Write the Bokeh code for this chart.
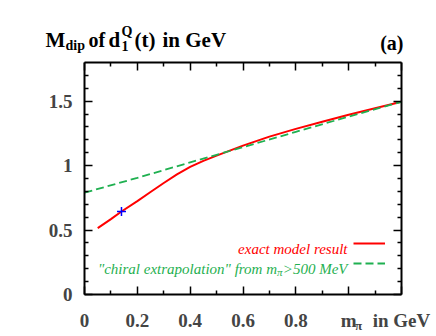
from bokeh.plotting import figure
from bokeh.layouts import column
from bokeh.models import (Range1d, LinearAxis, FixedTicker, Label, Legend, LegendItem)
from bokeh.embed import file_html
from bokeh.resources import INLINE

# ---- data ----
mpi_model = [0.05, 0.1, 0.14, 0.2, 0.25, 0.3, 0.35, 0.4, 0.45, 0.5, 0.6, 0.7, 0.8, 0.9, 1.0, 1.1, 1.2]
mdip_model = [0.515, 0.585, 0.644, 0.725, 0.795, 0.865, 0.932, 0.99, 1.037, 1.077, 1.155, 1.225, 1.285, 1.34, 1.395, 1.445, 1.495]
mpi_chiral = [0.0, 0.2, 0.4, 0.6, 0.8, 1.0, 1.2]
mdip_chiral = [0.79, 0.905, 1.025, 1.143, 1.262, 1.38, 1.495]
mpi_phys = [0.14]
mdip_phys = [0.644]

x_major = [0, 0.2, 0.4, 0.6, 0.8, 1.0, 1.2]
x_minor = [0.1, 0.3, 0.5, 0.7, 0.9, 1.1]
x_labels = {0: "0", 0.2: "0.2", 0.4: "0.4", 0.6: "0.6", 0.8: "0.8", 1.0: "m", 1.2: "in GeV"}
x_sub_tick = [1.037]
x_sub_label = {1.037: "\u03c0"}
y_major = [0, 0.5, 1.0, 1.5]
y_minor = [0.1, 0.2, 0.3, 0.4, 0.6, 0.7, 0.8, 0.9, 1.1, 1.2, 1.3, 1.4, 1.6, 1.7]
y_labels = {0: "0", 0.5: "0.5", 1.0: "1", 1.5: "1.5"}

RED = "#ff0000"
GREEN = "#1fb050"
BLUE = "#0000ff"
SERIF = "Liberation Serif"

W = 434
HT = 60          # title strip height
HM = 276         # main figure height

# ---------------- title strip ----------------
t = figure(width=W, height=HT, output_backend="svg", toolbar_location=None,
           x_range=Range1d(0, 1), y_range=Range1d(0, 1), min_border=0,
           x_axis_type=None, y_axis_type=None)
t.grid.visible = False
t.outline_line_color = None
t.border_fill_color = "white"
t.frame_align = False


def tlabel(fig, txt, px, py, size, color="black", style="bold", align="left"):
    fig.add_layout(Label(x=px, y=py, x_units="canvas", y_units="canvas",
                         text=txt, text_font=SERIF, text_font_style=style,
                         text_font_size=size, text_color=color, text_align=align,
                         text_baseline="alphabetic"))


tlabel(t, "M", 45, 39, "21px")
tlabel(t, "dip", 65, 45, "14px")
tlabel(t, "of", 88, 39, "20px")
tlabel(t, "d", 108, 39, "21px")
tlabel(t, "Q", 121, 31, "14px")
tlabel(t, "1", 121, 45, "14px")
tlabel(t, "(t)", 134, 39, "21px")
tlabel(t, "in GeV", 162, 39, "21px")
tlabel(t, "(a)", 403, 42, "20px", align="right")

# ---------------- main plot ----------------
p = figure(width=W, height=HM, output_backend="svg", toolbar_location=None,
           x_range=Range1d(0, 1.2), y_range=Range1d(0, 1.8),
           min_border_left=84, min_border_right=W - 401, min_border_top=2, min_border_bottom=42,
           x_axis_type=None, y_axis_type=None)
p.grid.visible = False
p.outline_line_color = None
p.background_fill_color = "white"
p.border_fill_color = "white"
p.frame_align = False


def style(ax, ticks, minor, labels, show, standoff=12, size="19px"):
    ax.ticker = FixedTicker(ticks=ticks, minor_ticks=minor)
    ax.axis_line_width = 2
    ax.axis_line_color = "black"
    ax.major_tick_in = 8
    ax.major_tick_out = 0
    ax.minor_tick_in = 4
    ax.minor_tick_out = 0
    ax.major_tick_line_width = 1.5
    ax.minor_tick_line_width = 1.5
    ax.major_label_overrides = labels
    ax.major_label_text_font = SERIF
    ax.major_label_text_font_style = "bold"
    ax.major_label_text_font_size = size if show else "0px"
    ax.major_label_standoff = standoff if show else 0


xb = LinearAxis(); style(xb, x_major, x_minor, x_labels, True, 15)
xs = LinearAxis(); style(xs, x_sub_tick, [], x_sub_label, True, -16, "13px")
xs.axis_line_color = None
xs.major_tick_line_color = None
xs.minor_tick_line_color = None
xt = LinearAxis(); style(xt, x_major, x_minor, {k: "" for k in x_labels}, False)
yl = LinearAxis(); style(yl, y_major, y_minor, y_labels, True, 12)
yr = LinearAxis(); style(yr, y_major, y_minor, {k: "" for k in y_labels}, False)
p.add_layout(xb, "below")
p.add_layout(xs, "below")
p.add_layout(xt, "above")
p.add_layout(yl, "left")
p.add_layout(yr, "right")

r_model = p.line(mpi_model, mdip_model, line_color=RED, line_width=2)
r_chiral = p.line(mpi_chiral, mdip_chiral, line_color=GREEN, line_width=1.8, line_dash="8 4")
p.scatter(mpi_phys, mdip_phys, marker="cross", size=9, line_color=BLUE, line_width=1.5)

# legend keys (labels drawn separately to the left of the keys)
leg = Legend(items=[LegendItem(label=" ", renderers=[r_model]),
                    LegendItem(label=" ", renderers=[r_chiral])],
             location=(269, 21), glyph_width=32, glyph_height=20, spacing=0,
             padding=0, margin=0, label_text_font_size="1px", label_standoff=0,
             label_width=0, label_height=0,
             background_fill_alpha=0, border_line_alpha=0)
p.add_layout(leg)

# legend texts (page y minus title strip height)
tlabel(p, "exact model result", 347, 248 - HT, "15px", color=RED, style="italic", align="right")
tlabel(p, ">500 MeV", 347, 268 - HT, "15px", color=GREEN, style="italic", align="right")
tlabel(p, "\u03c0", 282, 271 - HT, "11px", color=GREEN, style="italic", align="right")
tlabel(p, "\"chiral extrapolation\" from m", 276.5, 268 - HT, "15px", color=GREEN, style="italic", align="right")

layout = column(t, p, spacing=0)
open("out.html", "w").write(file_html(layout, INLINE))
